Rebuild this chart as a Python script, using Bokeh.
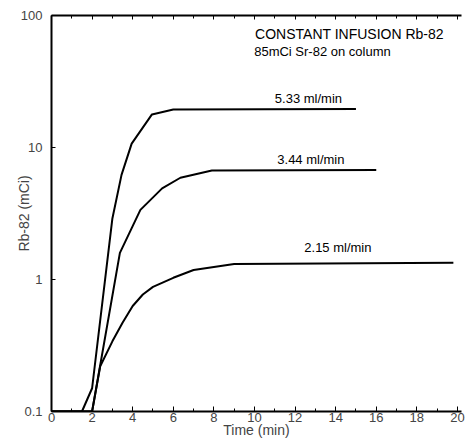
from bokeh.plotting import figure
from bokeh.models import FixedTicker, LinearAxis, Label, Range1d
from bokeh.embed import file_html
from bokeh.resources import INLINE

# Data
t_533 = [0, 1.5, 2.0, 3.0, 3.45, 3.95, 4.95, 6.0, 15.0]
v_533 = [0.1, 0.1, 0.15, 2.9, 6.2, 10.7, 17.8, 19.4, 19.6]

t_344 = [0, 2.0, 3.37, 4.38, 5.45, 6.35, 7.9, 16.0]
v_344 = [0.1, 0.1, 1.59, 3.37, 4.9, 5.9, 6.7, 6.75]

t_215 = [0, 2.0, 2.4, 3.0, 3.5, 4.0, 4.5, 5.0, 6.0, 7.0, 9.0, 19.8]
v_215 = [0.1, 0.1, 0.22, 0.34, 0.47, 0.63, 0.77, 0.88, 1.03, 1.18, 1.31, 1.34]

series_labels = ["5.33 ml/min", "3.44 ml/min", "2.15 ml/min"]
x_ticks = list(range(0, 21, 2))
x_minor = list(range(1, 20, 2))
y_ticks = [0.1, 1, 10, 100]
y_tick_labels = ["0.1", "1", "10", "100"]

FONT = "Liberation Sans"

p = figure(width=466, height=440, output_backend="svg", toolbar_location=None,
           y_axis_type="log", x_range=Range1d(0, 20.2), y_range=Range1d(0.1, 100),
           min_border_left=51, min_border_right=5, min_border_top=15, min_border_bottom=28)
p.outline_line_color = None
p.grid.visible = False

for tt, vv in [(t_533, v_533), (t_344, v_344), (t_215, v_215)]:
    p.line(tt, vv, line_color="black", line_width=2)

xa = p.xaxis[0]
xa.ticker = FixedTicker(ticks=x_ticks, minor_ticks=x_minor)
xa.axis_label = "Time (min)"
xa.axis_label_text_font = FONT
xa.axis_label_text_font_style = "normal"
xa.axis_label_text_font_size = "14px"
xa.axis_label_standoff = -3
xa.major_label_text_font = FONT
xa.major_label_text_font_size = "13px"
xa.major_label_standoff = 1
xa.major_tick_in = 5
xa.major_tick_out = 0
xa.minor_tick_in = 3
xa.minor_tick_out = 0
xa.axis_line_width = 2

ya = p.yaxis[0]
ya.ticker = FixedTicker(ticks=y_ticks, minor_ticks=[])
ya.major_label_overrides = {k: s for k, s in zip(y_ticks, y_tick_labels)}
ya.axis_label = "Rb-82 (mCi)"
ya.axis_label_text_font = FONT
ya.axis_label_text_font_style = "normal"
ya.axis_label_text_font_size = "14px"
ya.axis_label_standoff = -14
ya.major_label_text_font = FONT
ya.major_label_text_font_size = "13px"
ya.major_label_standoff = 9
ya.major_tick_in = 4
ya.major_tick_out = 0
ya.minor_tick_in = 0
ya.minor_tick_out = 0
ya.axis_line_width = 2

top = LinearAxis(ticker=FixedTicker(ticks=x_ticks, minor_ticks=x_minor),
                 major_label_overrides={t: "" for t in x_ticks},
                 major_tick_in=4, major_tick_out=0, major_label_standoff=0,
                 minor_tick_in=3, minor_tick_out=0, axis_line_width=2)
p.add_layout(top, "above")

def add_label(x, y, text, size="13px"):
    p.add_layout(Label(x=x, y=y, text=text, text_font=FONT, text_font_size=size,
                       text_align="center", text_baseline="middle", text_color="black"))

add_label(12.66, 23.6, series_labels[0])
add_label(12.78, 8.1, series_labels[1])
add_label(14.11, 1.75, series_labels[2])
add_label(14.68, 71.9, "CONSTANT INFUSION Rb-82", "14px")
add_label(13.35, 53.5, "85mCi Sr-82 on column")

open("out.html", "w").write(file_html(p, INLINE))
